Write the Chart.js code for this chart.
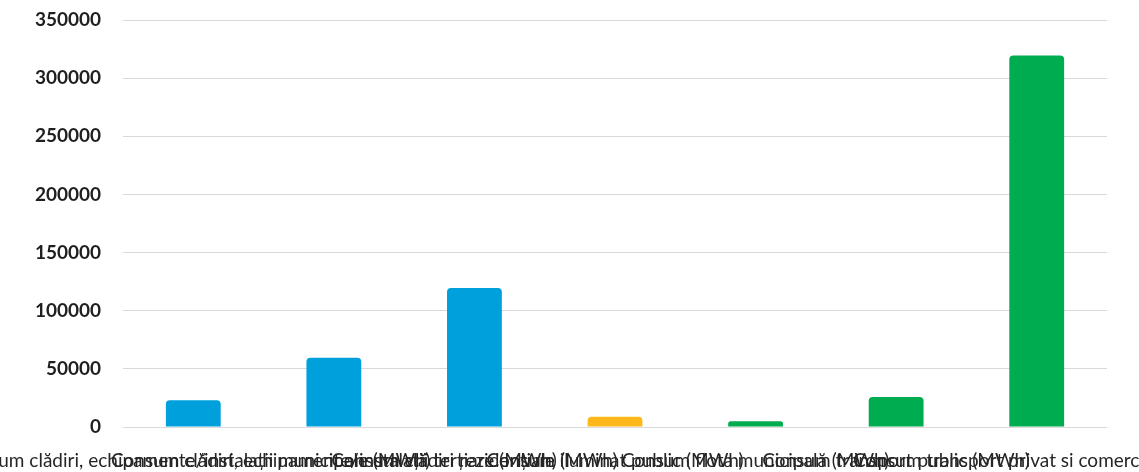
<!DOCTYPE html>
<html>
<head>
<meta charset="utf-8">
<script src="https://cdn.jsdelivr.net/npm/chart.js@4/dist/chart.umd.min.js"></script>
<style>
  html, body { margin: 0; padding: 0; background: #ffffff; }
  #wrap { width: 1139px; height: 472px; position: relative; }
</style>
</head>
<body>
<div id="wrap"><canvas id="c"></canvas></div>
<script>
const categories = [
  "Consum clădiri, echipamente/instalații municipale (MWh)",
  "Consum clădiri, echipamente/instalații terțiare (MWh)",
  "Consum clădiri rezidențiale (MWh)",
  "Consum iluminat public (MWh)",
  "Consum flota municipală (MWh)",
  "Consum transport public (MWh)",
  "Consum transport privat si comercial (MWh)"
];
const values = [23000, 59500, 119500, 8800, 4900, 25800, 319500];
const barColors = ["#00A0DC", "#00A0DC", "#00A0DC", "#FFB81C", "#00AC50", "#00AC50", "#00AC50"];
const yTicks = [0, 50000, 100000, 150000, 200000, 250000, 300000, 350000];

new Chart(document.getElementById('c'), {
  type: 'bar',
  data: {
    labels: categories,
    datasets: [{
      data: values,
      backgroundColor: barColors,
      borderRadius: 4,
      borderSkipped: 'start',
      barPercentage: 0.39,
      categoryPercentage: 1.0
    }]
  },
  options: {
    responsive: true,
    maintainAspectRatio: false,
    animation: false,
    layout: { padding: { top: 20, right: 32, bottom: 0, left: 0 } },
    plugins: { legend: { display: false }, tooltip: { enabled: false } },
    scales: {
      x: {
        grid: { display: false, drawTicks: false },
        border: { display: false },
        ticks: {
          autoSkip: false, maxRotation: 0, minRotation: 0,
          padding: 22,
          color: '#262626',
          font: { family: 'Lato, "Open Sans", sans-serif', size: 19 }
        },
        afterFit(scale) { scale.paddingLeft = 0; scale.paddingRight = 0; scale.height = 45; }
      },
      y: {
        min: 0, max: 350000,
        afterBuildTicks(scale) { scale.ticks = yTicks.map(v => ({ value: v })); },
        grid: { color: '#d9d9d9', lineWidth: 1, drawTicks: false },
        border: { display: false },
        ticks: {
          padding: 22,
          color: '#1f1f1f',
          font: { family: 'Lato, "Open Sans", sans-serif', size: 19, weight: 'bold' },
          callback: (v) => String(v)
        },
        afterFit(scale) { scale.width = 123; scale.paddingTop = 0; scale.paddingBottom = 0; }
      }
    }
  }
});
</script>
</body>
</html>
